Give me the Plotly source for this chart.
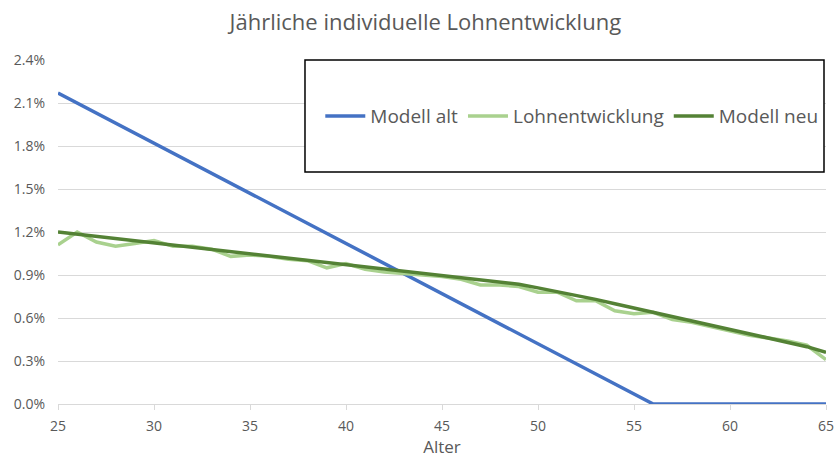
import plotly.graph_objects as go

alter = list(range(25, 66))
modell_alt = [2.17, 2.10, 2.03, 1.96, 1.89, 1.82, 1.75, 1.68, 1.61, 1.54, 1.47, 1.40, 1.33, 1.26,
              1.19, 1.12, 1.05, 0.98, 0.91, 0.84, 0.77, 0.70, 0.63, 0.56, 0.49, 0.42, 0.35, 0.28,
              0.21, 0.14, 0.07, 0.00, 0.00, 0.00, 0.00, 0.00, 0.00, 0.00, 0.00, 0.00, 0.00]
lohnentwicklung = [1.11, 1.20, 1.13, 1.10, 1.12, 1.14, 1.10, 1.10, 1.08, 1.03, 1.04, 1.03, 1.01,
                   1.00, 0.95, 0.98, 0.94, 0.92, 0.91, 0.90, 0.89, 0.87, 0.83, 0.83, 0.82, 0.78,
                   0.78, 0.72, 0.72, 0.65, 0.63, 0.64, 0.59, 0.57, 0.54, 0.51, 0.48, 0.46, 0.44,
                   0.41, 0.31]
modell_neu = [1.20, 1.185, 1.17, 1.155, 1.14, 1.125, 1.11, 1.095, 1.08, 1.065, 1.05, 1.035, 1.02,
              1.005, 0.99, 0.975, 0.96, 0.945, 0.93, 0.915, 0.90, 0.885, 0.87, 0.85, 0.835, 0.81,
              0.785, 0.76, 0.73, 0.70, 0.67, 0.64, 0.61, 0.58, 0.55, 0.52, 0.49, 0.46, 0.43,
              0.40, 0.36]

x_ticks = [25, 30, 35, 40, 45, 50, 55, 60, 65]
y_ticks = [0.0, 0.3, 0.6, 0.9, 1.2, 1.5, 1.8, 2.1, 2.4]
y_labels = ["0.0%", "0.3%", "0.6%", "0.9%", "1.2%", "1.5%", "1.8%", "2.1%", "2.4%"]

fig = go.Figure()
fig.add_trace(go.Scatter(x=alter, y=modell_alt, mode="lines", name="Modell alt",
                         line=dict(color="#4472C4", width=3.5)))
fig.add_trace(go.Scatter(x=alter, y=lohnentwicklung, mode="lines", name="Lohnentwicklung",
                         line=dict(color="#A9D18E", width=3.5)))
fig.add_trace(go.Scatter(x=alter, y=modell_neu, mode="lines", name="Modell neu",
                         line=dict(color="#548235", width=3.5)))

font = "Open Sans, Noto Sans, sans-serif"
fig.update_layout(
    width=834, height=461,
    margin=dict(l=58, r=8, t=60, b=57, autoexpand=False),
    paper_bgcolor="white", plot_bgcolor="white",
    font=dict(family=font, color="#595959"),
    title=dict(text="Jährliche individuelle Lohnentwicklung", x=0.51, xanchor="center",
               y=0.952, yanchor="middle", automargin=False,
               font=dict(size=22, color="#595959")),
    xaxis=dict(range=[25, 65], tickvals=x_ticks, showgrid=False, zeroline=False,
               showline=True, linecolor="#d9d9d9", linewidth=1.3,
               ticks="outside", ticklen=5, tickcolor="#d9d9d9", automargin=False,
               ticklabelstandoff=4, ticklabeloverflow="allow",
               tickfont=dict(size=14, color="#595959"),
               title=dict(text="Alter", font=dict(size=17, color="#595959"), standoff=0)),
    yaxis=dict(range=[0, 2.4], tickvals=y_ticks, ticktext=y_labels, showgrid=True,
               gridcolor="#d9d9d9", gridwidth=1.3, zeroline=False, ticks="", automargin=False,
               ticklabelstandoff=12,
               tickfont=dict(size=14, color="#595959")),
    legend=dict(orientation="h", x=0.669, y=0.837, xanchor="center", yanchor="middle",
                bgcolor="rgba(0,0,0,0)", font=dict(size=19, color="#595959"),
                itemwidth=40, traceorder="normal"),
    shapes=[dict(type="rect", xref="paper", yref="paper", x0=0.3216, x1=0.9974,
                 y0=0.6744, y1=1.0, line=dict(color="black", width=1.5),
                 fillcolor="white", layer="above")],
)

fig.write_html(
    "out.html",
    config={"displayModeBar": False},
    post_script="document.body.style.margin='0';document.body.style.overflow='hidden';",
)
